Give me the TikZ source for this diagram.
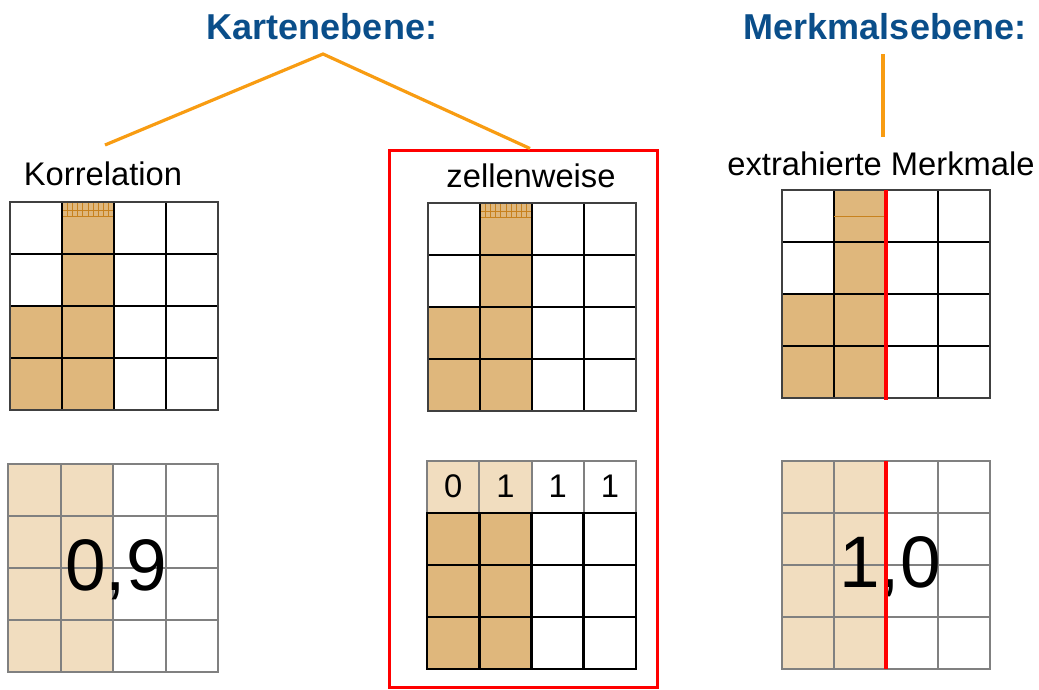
\documentclass[tikz,border=0pt]{standalone}
\usepackage{fontspec}
\setmainfont{Liberation Sans}
\usetikzlibrary{positioning}
\definecolor{titleblue}{HTML}{0A4E8A}
\definecolor{leaderorange}{HTML}{F89C12}
\definecolor{tan}{HTML}{DFB77C}
\definecolor{lighttan}{HTML}{F1DDBF}
\definecolor{hatchbrown}{HTML}{C8821E}
\definecolor{framered}{HTML}{FF0000}
\begin{document}
\begin{tikzpicture}[x=1pt,y=-1pt]
\tikzset{heading/.style={font=\fontsize{36}{40}\selectfont\bfseries,text=titleblue,anchor=base},
  txt/.style={font=\fontsize{32.7}{36}\selectfont,anchor=base},
  bignum/.style={font=\fontsize{73}{80}\selectfont,anchor=base},
  leader/.style={draw=leaderorange,line width=3.2pt},
  blackgrid/.style={line width=2.6pt,black},
  graygrid/.style={line width=2pt,black!50},
  hatchline/.style={line width=0.7pt,hatchbrown},
  redbar/.style={line width=4.5pt,framered},
  redframe/.style={draw=framered,line width=3pt,minimum width=268pt,minimum height=537pt,inner sep=0pt}}
\useasboundingbox (0,0) rectangle (1039,689);
% headings and captions
\node[heading] (karte) at (322,39) {Kartenebene:};
\node[heading] (merkmal) at (885,39) {Merkmalsebene:};
\node[txt] (korr) at (103,185) {Korrelation};
\node[txt] (zelle) at (531,187) {zellenweise};
\node[txt] (extr) at (881,175) {extrahierte Merkmale};
\node[redframe] (zframe) at (523,418.5) {};
\coordinate (kapex) at (323,54);
\coordinate (kleft) at (105,145);
\coordinate (mtop) at (883,54);
\coordinate (mbot) at (883,137);
\draw[leader] (kleft) -- (kapex) -- ([xshift=7pt]zframe.north);
\draw[leader] (mtop) -- (mbot);
% upper grids
\foreach \ox/\oy in {10/202,428/203,782/190}{
  \fill[tan] (\ox+52,\oy) rectangle (\ox+104,\oy+208);
  \fill[tan] (\ox,\oy+104) rectangle (\ox+52,\oy+208);
  \foreach \i in {1,2,3}{
    \draw[blackgrid] (\ox+52*\i,\oy) -- (\ox+52*\i,\oy+208);
    \draw[blackgrid] (\ox,\oy+52*\i) -- (\ox+208,\oy+52*\i);
  }
  \draw[line width=2pt,black!75] (\ox,\oy) rectangle (\ox+208,\oy+208);
}
\foreach \ox/\oy in {10/202,428/203}{
  \foreach \k in {1,...,9} \draw[hatchline] (\ox+52+5.2*\k,\oy+1) -- ++(0,13);
  \draw[hatchline] (\ox+53,\oy+8) -- ++(50,0);
  \draw[hatchline] (\ox+53,\oy+14) -- ++(50,0);
}
\draw[hatchline] (834,216) -- (886,216);
% lower grids
\fill[lighttan] (8,464) rectangle (113,672);
\foreach \i in {1,2,3}{
  \draw[graygrid] (8+52.5*\i,464) -- (8+52.5*\i,672);
  \draw[graygrid] (8,464+52*\i) -- (218,464+52*\i);
}
\draw[graygrid] (8,464) rectangle (218,672);
\node[bignum] (wert1) at (116,590) {0,9};
\fill[lighttan] (427,461) rectangle (531,513);
\fill[tan] (427,513) rectangle (531,669);
\foreach \i in {1,2,3}{
  \draw[graygrid] (427+52.25*\i,461) -- (427+52.25*\i,513);
  \draw[blackgrid] (427+52.25*\i,513) -- (427+52.25*\i,669);
}
\draw[blackgrid] (427,565) -- (636,565);
\draw[blackgrid] (427,617) -- (636,617);
\draw[graygrid] (427,461) rectangle (636,513);
\draw[blackgrid] (427,513) rectangle (636,669);
\foreach \d [count=\c] in {0,1,1,1}
  \node[txt] (bit\c) at (427+52.25*\c-26,497) {\d};
\fill[lighttan] (782,461) rectangle (886,669);
\foreach \i in {1,2,3}{
  \draw[graygrid] (782+52*\i,461) -- (782+52*\i,669);
  \draw[graygrid] (782,461+52*\i) -- (990,461+52*\i);
}
\draw[graygrid] (782,461) rectangle (990,669);
\node[bignum] (wert2) at (890,587) {1,0};
\draw[redbar] (886,190) -- (886,400);
\draw[redbar] (886,461) -- (886,669);
\end{tikzpicture}
\end{document}
